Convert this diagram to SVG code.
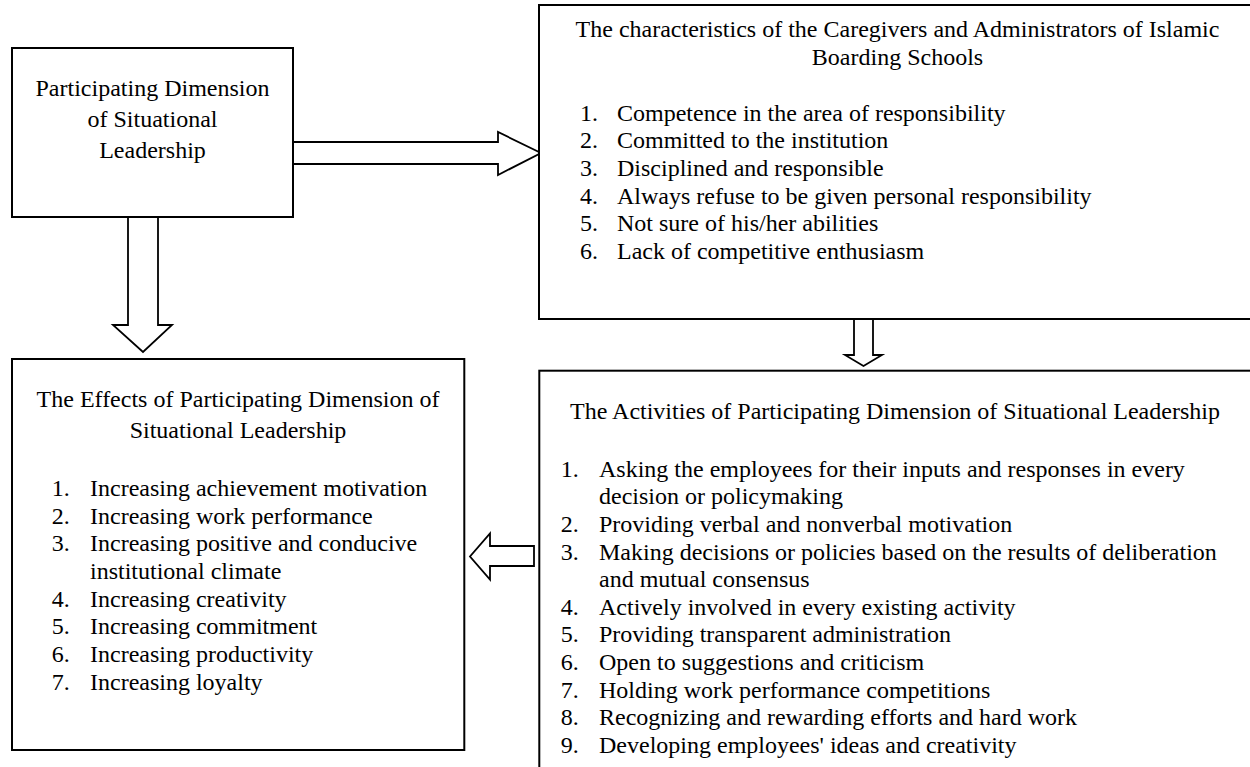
<svg xmlns="http://www.w3.org/2000/svg" width="1250" height="767" viewBox="0 0 1250 767">
<style>
.box{fill:#fff;stroke:#000;stroke-width:2}
.arr{fill:#fff;stroke:#000;stroke-width:1.8;stroke-linejoin:miter}
text{font-family:"Liberation Serif","Times New Roman",serif;font-size:24px;fill:#000}
.c{text-anchor:middle}
</style>
<rect width="1250" height="767" fill="#fff"/>
<g id="connectors">
<polygon class="arr" points="293,142 498,142 498,132 541,153 498,175 498,164 293,164"/>
<polygon class="arr" points="128,217 158,217 158,325 172,325 143,352 113,325 128,325"/>
<polygon class="arr" points="854,319 873,319 873,355 882,355 863.5,366 845,355 854,355"/>
<polygon class="arr" points="534,546 534,566 490,566 490,579.5 470,556.5 490,533.5 490,546"/>
</g>
<g id="participating">
<rect class="box" x="12" y="48" width="281" height="169"/>
<text class="c" x="152.5" y="96">Participating Dimension</text>
<text class="c" x="152.5" y="127">of Situational</text>
<text class="c" x="152.5" y="158">Leadership</text>
</g>
<g id="characteristics">
<rect class="box" x="539" y="5" width="717" height="314"/>
<text class="c" x="897.5" y="37">The characteristics of the Caregivers and Administrators of Islamic</text>
<text class="c" x="897.5" y="65">Boarding Schools</text>
<text x="580" y="120.7">1.</text><text x="617" y="120.7">Competence in the area of responsibility</text>
<text x="580" y="148.3">2.</text><text x="617" y="148.3">Committed to the institution</text>
<text x="580" y="176">3.</text><text x="617" y="176">Disciplined and responsible</text>
<text x="580" y="203.6">4.</text><text x="617" y="203.6">Always refuse to be given personal responsibility</text>
<text x="580" y="231.3">5.</text><text x="617" y="231.3">Not sure of his/her abilities</text>
<text x="580" y="259">6.</text><text x="617" y="259">Lack of competitive enthusiasm</text>
</g>
<g id="effects">
<rect class="box" x="12" y="359" width="452.3" height="391"/>
<text class="c" x="238" y="407.3">The Effects of Participating Dimension of</text>
<text class="c" x="238" y="438.3">Situational Leadership</text>
<text x="51.7" y="496">1.</text><text x="90" y="496">Increasing achievement motivation</text>
<text x="51.7" y="523.7">2.</text><text x="90" y="523.7">Increasing work performance</text>
<text x="51.7" y="551.4">3.</text><text x="90" y="551.4">Increasing positive and conducive</text>
<text x="90" y="579">institutional climate</text>
<text x="51.7" y="606.7">4.</text><text x="90" y="606.7">Increasing creativity</text>
<text x="51.7" y="634.4">5.</text><text x="90" y="634.4">Increasing commitment</text>
<text x="51.7" y="662.1">6.</text><text x="90" y="662.1">Increasing productivity</text>
<text x="51.7" y="689.8">7.</text><text x="90" y="689.8">Increasing loyalty</text>
</g>
<g id="activities">
<rect class="box" x="539.3" y="370.7" width="717" height="420"/>
<text class="c" x="895" y="419">The Activities of Participating Dimension of Situational Leadership</text>
<text x="560.7" y="476.7">1.</text><text x="599" y="476.7">Asking the employees for their inputs and responses in every</text>
<text x="599" y="504.3">decision or policymaking</text>
<text x="560.7" y="531.9">2.</text><text x="599" y="531.9">Providing verbal and nonverbal motivation</text>
<text x="560.7" y="559.5">3.</text><text x="599" y="559.5">Making decisions or policies based on the results of deliberation</text>
<text x="599" y="587.1">and mutual consensus</text>
<text x="560.7" y="614.7">4.</text><text x="599" y="614.7">Actively involved in every existing activity</text>
<text x="560.7" y="642.3">5.</text><text x="599" y="642.3">Providing transparent administration</text>
<text x="560.7" y="669.9">6.</text><text x="599" y="669.9">Open to suggestions and criticism</text>
<text x="560.7" y="697.5">7.</text><text x="599" y="697.5">Holding work performance competitions</text>
<text x="560.7" y="725.1">8.</text><text x="599" y="725.1">Recognizing and rewarding efforts and hard work</text>
<text x="560.7" y="752.7">9.</text><text x="599" y="752.7">Developing employees' ideas and creativity</text>
</g>
</svg>
